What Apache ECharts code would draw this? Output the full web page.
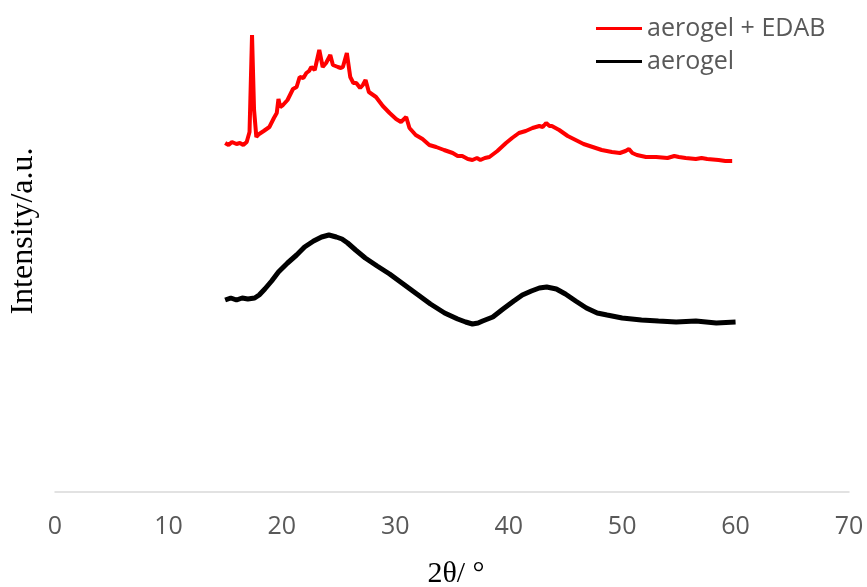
<!DOCTYPE html>
<html>
<head>
<meta charset="utf-8">
<script src="https://cdn.jsdelivr.net/npm/echarts@6/dist/echarts.min.js"></script>
<style>html,body{margin:0;padding:0;background:#fff;}#c{width:867px;height:587px;}</style>
</head>
<body>
<div id="c"></div>
<script>
var xTicks = [0, 10, 20, 30, 40, 50, 60, 70];
var seriesNames = ['aerogel + EDAB', 'aerogel'];

var edabX = [15.0,15.3,15.6,16.0,16.3,16.6,16.9,17.15,17.37,17.55,17.75,18.0,18.4,18.9,19.3,19.55,19.7,19.85,20.1,20.5,20.98,21.3,21.57,21.9,22.16,22.4,22.6,22.9,23.04,23.3,23.6,23.9,24.27,24.5,24.94,25.2,25.38,25.73,26.03,26.3,26.56,26.9,27.14,27.38,27.67,28.3,28.9,29.5,30.07,30.5,30.96,31.25,31.8,32.4,33.0,33.6,34.3,35.06,35.5,35.9,36.4,36.8,37.2,37.5,37.9,38.3,39.0,39.76,40.3,40.9,41.5,42.1,42.7,43.0,43.3,43.6,43.8,44.45,45.2,45.9,46.6,47.4,48.2,49.1,49.8,50.3,50.6,50.9,51.3,52.1,53.0,54.0,54.6,55.0,55.6,56.5,57.0,57.5,58.5,59.1,59.7];
var edabY = [349,347,350,348,349,347,350,360,457,382,355,358,361,365,374,379,393,385,387,392,403,405,415,414,419,421,425,422,429,442,425,429,437,427,425,424,425,439,415,409,409,404,407,412,400,395,386,379,373,370,375,364,357,353,347,345,342,339,336,336,333,332,334,332,334,335,341,349,354,359,361,364,366,365,369,366,366,362,356,352,348,345,342,340,339,341,343,339,337,335,335,334,336,335,334,333,334,333,332,331,331];

var aeroX = [15.0,15.5,16.0,16.5,17.0,17.6,18.0,18.5,19.1,19.7,20.5,21.3,22.0,22.8,23.5,24.15,24.8,25.3,25.8,26.5,27.35,28.4,29.5,30.7,31.9,33.1,34.35,35.5,36.2,36.8,37.3,37.7,38.6,39.5,40.45,41.2,42.0,42.7,43.35,44.2,45.0,45.9,46.85,47.8,48.67,50.0,51.7,53.2,54.76,56.5,58.3,60.0];
var aeroY = [192,194,192,194,193,194,197,203,211,220,229,237,245,251,255,257,255,253,249,242,234,226,218,208,198,188,179,173,170,168,169,171,175,183,191,197,201,204,205,203,198,191,184,179,177,174,172,171,170,171,169,170];

function pairs(xs, ys) { return xs.map(function (x, i) { return [x, ys[i]]; }); }

var chart = echarts.init(document.getElementById('c'), null, {renderer: 'canvas'});
chart.setOption({
  animation: false,
  backgroundColor: '#ffffff',
  legend: {
    orient: 'vertical',
    left: 591,
    top: 11,
    itemWidth: 46,
    itemHeight: 3,
    itemGap: 8,
    icon: 'rect',
    textStyle: {fontFamily: 'Open Sans', fontSize: 25, color: '#595959'},
    data: seriesNames
  },
  grid: {left: 55, right: 18, top: 20, bottom: 95, containLabel: false, outerBoundsMode: 'none'},
  xAxis: {
    type: 'value', min: 0, max: 70, interval: 10,
    axisLine: {show: true, lineStyle: {color: '#d9d9d9', width: 1.5}},
    axisTick: {show: false},
    splitLine: {show: false},
    axisLabel: {margin: 22, fontFamily: 'Open Sans', fontSize: 25, color: '#595959',
      formatter: function (v) { return xTicks.indexOf(v) >= 0 ? String(v) : ''; }},
    name: '2θ/ °',
    nameLocation: 'middle',
    nameGap: 67,
    nameTextStyle: {fontFamily: 'Liberation Serif', fontSize: 30, color: '#000', padding: [0, 0, 0, 8]}
  },
  yAxis: {
    type: 'value', min: 0, max: 472,
    axisLine: {show: false}, axisTick: {show: false}, axisLabel: {show: false}, splitLine: {show: false},
    name: 'Intensity/a.u.',
    nameLocation: 'middle',
    nameGap: 15,
    nameTextStyle: {fontFamily: 'Liberation Serif', fontSize: 32, color: '#000', padding: [0, 0, 0, 50]}
  },
  series: [
    {name: seriesNames[0], type: 'line', showSymbol: false, symbol: 'none',
     data: pairs(edabX, edabY), lineStyle: {color: '#ff0000', width: 4}, itemStyle: {color: '#ff0000'}},
    {name: seriesNames[1], type: 'line', showSymbol: false, symbol: 'none',
     data: pairs(aeroX, aeroY), lineStyle: {color: '#000000', width: 5}, itemStyle: {color: '#000000'}}
  ]
});
</script>
</body>
</html>
